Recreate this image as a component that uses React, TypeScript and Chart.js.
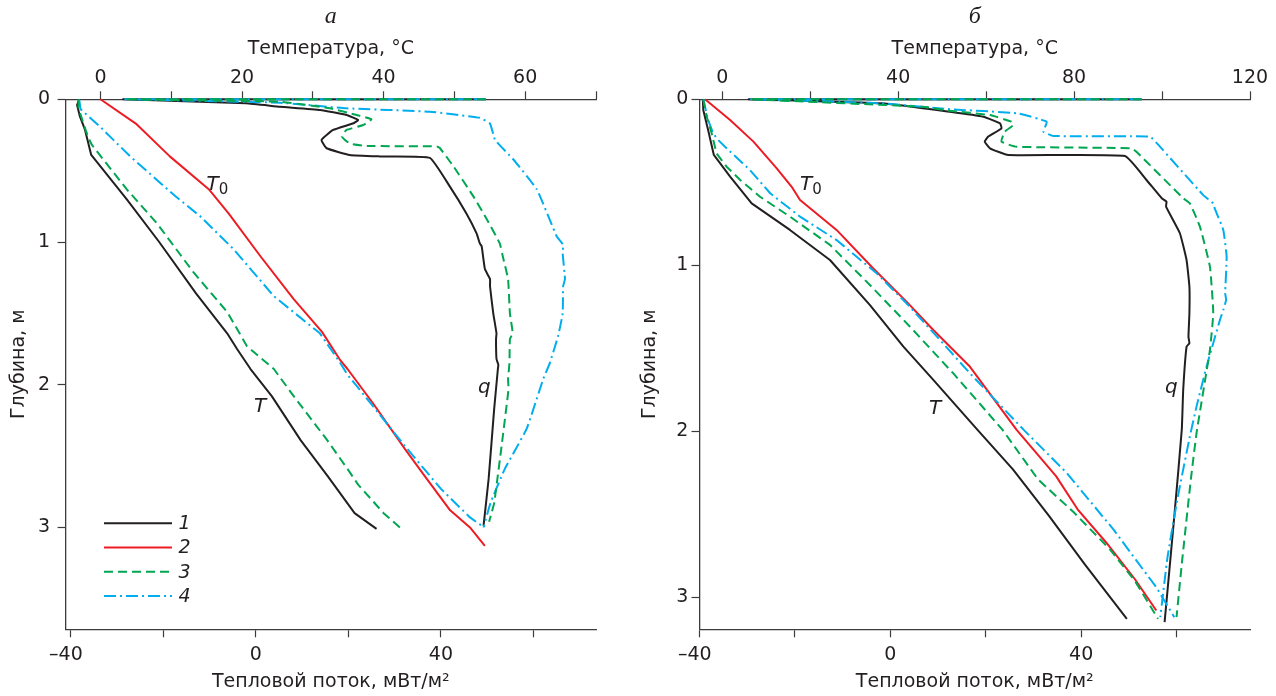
import React, { useEffect, useRef } from 'react';
import { Chart, registerables } from 'chart.js';

Chart.register(...registerables);

const SANS = '"DejaVu Sans", sans-serif';
const SERIF = '"Liberation Serif", serif';
const INK = '#231f20';
const AXIS = '#3c3c3c';

// ---------- Panel "а" (left) ----------
// Temperature curves (top axis, °C) vs depth (m)
const A_T1_TEMP = [-3.0, -3.3, -2.9, -2.2, -1.3, 3.7, 8.3, 13.5, 17.9, 19.3, 21.2, 24.2, 28.3, 32.1, 35.9, 39.0];
const A_T1_DEPTH = [0, 0.04, 0.12, 0.21, 0.39, 0.70, 1.0, 1.36, 1.64, 1.75, 1.89, 2.08, 2.39, 2.64, 2.90, 3.01];
const A_T2_TEMP = [0, 5.0, 9.8, 15.3, 18.1, 22.6, 27.3, 31.3, 33.9, 34.9, 38.5, 43.0, 46.1, 49.4, 52.2, 54.3];
const A_T2_DEPTH = [0, 0.17, 0.40, 0.63, 0.80, 1.10, 1.40, 1.63, 1.83, 1.89, 2.13, 2.45, 2.66, 2.88, 3.0, 3.13];
const A_T3_TEMP = [-3.1, -3.1, -2.4, -1.7, -1.2, -0.1, 3.7, 8.0, 13.1, 17.9, 20.7, 24.5, 27.3, 31.9, 34.9, 36.4, 40.0, 42.5];
const A_T3_DEPTH = [0, 0.06, 0.17, 0.27, 0.32, 0.39, 0.63, 0.87, 1.21, 1.49, 1.73, 1.89, 2.08, 2.38, 2.59, 2.70, 2.90, 3.01];
const A_T4_TEMP = [-3.0, -2.8, -0.1, 4.2, 10.6, 14.1, 18.8, 24.5, 31.0, 33.9, 34.9, 38.5, 43.0, 48.1, 52.2, 54.2];
const A_T4_DEPTH = [0, 0.07, 0.19, 0.40, 0.68, 0.82, 1.05, 1.38, 1.64, 1.85, 1.93, 2.15, 2.43, 2.73, 2.93, 3.0];
// Heat-flux curves (bottom axis, mW/m2) vs depth (m); the surface turning point is listed twice
const A_Q1_FLUX = [49.7, -28.7, -28.7, -2.1, 5.2, 13.9, 19.6, 22.1, 21.1, 16.7, 14.2, 15.3, 20.3, 26.8, 37.6, 41.9, 45.5, 47.7, 48.4, 48.8, 49.5, 50.6, 50.6, 51.3, 52.0, 51.9, 52.0, 52.4, 52.3, 51.5, 50.3, 49.2];
const A_Q1_DEPTH = [0, 0, 0, 0.028, 0.052, 0.075, 0.11, 0.145, 0.168, 0.215, 0.285, 0.343, 0.39, 0.40, 0.41, 0.61, 0.80, 0.94, 1.01, 1.03, 1.19, 1.26, 1.31, 1.50, 1.64, 1.68, 1.82, 1.86, 1.89, 2.17, 2.66, 2.99];
const A_Q3_FLUX = [49.7, -28.2, -28.2, 5.2, 16.0, 21.8, 25.0, 23.2, 19.6, 18.6, 20.3, 24.0, 39.1, 39.8, 42.7, 47.0, 49.9, 52.7, 53.5, 54.5, 54.9, 55.5, 54.9, 54.8, 54.5, 54.6, 53.1, 51.5, 51.0, 50.4];
const A_Q3_DEPTH = [0, 0, 0, 0.017, 0.063, 0.11, 0.14, 0.18, 0.215, 0.26, 0.31, 0.327, 0.33, 0.343, 0.47, 0.68, 0.84, 1.01, 1.12, 1.26, 1.50, 1.64, 1.68, 1.85, 1.96, 2.03, 2.43, 2.83, 2.89, 2.96];
const A_Q4_FLUX = [49.7, -28.2, -28.2, 5.2, 19.6, 37.6, 48.4, 50.6, 51.7, 55.6, 60.7, 65.0, 66.4, 66.3, 66.8, 66.4, 66.3, 65.3, 63.5, 62.1, 58.5, 53.8, 50.7, 49.2];
const A_Q4_DEPTH = [0, 0, 0, 0.024, 0.063, 0.087, 0.13, 0.17, 0.285, 0.42, 0.63, 0.96, 1.02, 1.08, 1.26, 1.31, 1.50, 1.66, 1.85, 1.96, 2.31, 2.59, 2.83, 3.0];

// ---------- Panel "б" (right) ----------
const B_T1_TEMP = [-4.4, -4.3, -3.2, -1.9, 1.8, 6.7, 15.4, 24.5, 33.6, 41.2, 48.0, 58.0, 66.1, 74.3, 82.4, 92.0];
const B_T1_DEPTH = [0, 0.064, 0.185, 0.335, 0.466, 0.627, 0.787, 0.968, 1.24, 1.49, 1.69, 1.99, 2.23, 2.51, 2.80, 3.13];
const B_T2_TEMP = [-3.9, 1.8, 7.1, 12.4, 15.8, 17.7, 26.0, 34.3, 41.9, 48.0, 56.3, 66.9, 75.9, 80.8, 87.3, 93.8, 98.7];
const B_T2_DEPTH = [0, 0.125, 0.255, 0.416, 0.527, 0.607, 0.787, 1.018, 1.219, 1.39, 1.61, 1.99, 2.27, 2.47, 2.67, 2.89, 3.08];
const B_T3_TEMP = [-4.3, -3.5, -2.4, -1.3, 1.0, 4.1, 8.6, 15.4, 24.5, 34.0, 42.7, 52.5, 63.7, 71.8, 80.0, 88.1, 93.8, 99.1];
const B_T3_DEPTH = [0, 0.105, 0.205, 0.325, 0.406, 0.486, 0.587, 0.707, 0.877, 1.13, 1.37, 1.65, 1.99, 2.29, 2.49, 2.71, 2.90, 3.13];
const B_T4_TEMP = [-4.3, -3.2, -2.2, -1.3, 1.0, 6.3, 10.9, 17.7, 26.0, 35.1, 41.9, 50.2, 56.3, 68.5, 78.3, 88.9, 98.7, 102.8];
const B_T4_DEPTH = [0, 0.125, 0.195, 0.235, 0.295, 0.426, 0.566, 0.707, 0.848, 1.048, 1.229, 1.47, 1.65, 1.99, 2.25, 2.59, 2.94, 3.12];
const B_Q1_FLUX = [52.7, -29.7, -29.7, -1.8, 12.5, 19.5, 23.0, 23.3, 20.5, 19.8, 20.9, 24.7, 49.2, 53.7, 56.9, 57.9, 57.8, 60.7, 62.1, 62.7, 62.7, 62.5, 62.7, 62.1, 61.4, 61.1, 59.6, 57.5];
const B_Q1_DEPTH = [0, 0, 0, 0.024, 0.075, 0.105, 0.145, 0.175, 0.225, 0.255, 0.295, 0.336, 0.342, 0.486, 0.596, 0.617, 0.647, 0.807, 0.968, 1.129, 1.289, 1.43, 1.47, 1.49, 1.75, 1.99, 2.49, 3.15];
const B_Q3_FLUX = [52.7, -29.2, -29.2, 6.8, 12.5, 20.9, 25.4, 25.8, 24.0, 23.3, 26.5, 50.6, 51.6, 61.4, 62.8, 64.9, 67.0, 67.7, 67.0, 66.0, 64.2, 63.0, 61.1, 60.0];
const B_Q3_DEPTH = [0, 0, 0, 0.045, 0.069, 0.095, 0.135, 0.155, 0.195, 0.255, 0.286, 0.295, 0.316, 0.596, 0.627, 0.767, 1.008, 1.289, 1.51, 1.69, 2.01, 2.29, 2.80, 3.12];
const B_Q4_FLUX = [52.7, -29.2, -29.2, -1.8, 12.5, 26.5, 32.8, 32.1, 34.2, 54.4, 56.2, 65.6, 67.7, 68.0, 69.8, 70.5, 70.2, 70.4, 69.8, 69.1, 66.3, 64.2, 62.8, 60.3, 58.1, 56.6];
const B_Q4_DEPTH = [0, 0, 0, 0.024, 0.06, 0.084, 0.135, 0.195, 0.221, 0.225, 0.275, 0.577, 0.627, 0.657, 0.787, 0.948, 1.169, 1.209, 1.269, 1.329, 1.61, 1.85, 2.03, 2.39, 2.76, 3.12];

// ---------- Axes ----------
const T_TITLE = 'Температура, °C';
const Q_TITLE = 'Тепловой поток, мВт/м²';
const D_TITLE = 'Глубина, м';
const A_T_TICKS = [0, 10, 20, 30, 40, 50, 60, 70];
const A_T_LABELS = [0, 20, 40, 60];
const B_T_TICKS = [0, 20, 40, 60, 80, 100, 120];
const B_T_LABELS = [0, 40, 80, 120];
const Q_TICKS = [-40, -20, 0, 20, 40, 60];
const Q_LABELS = [-40, 0, 40];
const D_TICKS = [0, 1, 2, 3];
const LEGEND_LABELS = ['1', '2', '3', '4'];

const SERIES_STYLE: Record<number, { color: string; dash: number[]; order: number }> = {
  1: { color: '#231f20', dash: [], order: 3 },
  2: { color: '#ed1c24', dash: [], order: 2 },
  3: { color: '#00a651', dash: [9, 5], order: 0 },
  4: { color: '#00aeef', dash: [12, 4, 2, 4], order: 1 },
};

type Curve = { xs: number[]; ds: number[]; axis: 'xT' | 'xQ'; series: number };
type Note = { text: string; sub?: string; axis: 'xT' | 'xQ'; x: number; y: number };
type Panel = {
  key: string; letter: string; left: number; width: number;
  yAxisWidth: number; padRight: number;
  tMin: number; tMax: number; tTicks: number[]; tLabels: number[];
  qMin: number; qMax: number;
  dMax: number; yTickPad: number; yTitlePad: number;
  curves: Curve[]; notes: Note[]; legend: boolean;
};

const PANEL_A: Panel = {
  key: 'a', letter: 'а', left: 0, width: 638, yAxisWidth: 65.6, padRight: 42,
  tMin: -4.92, tMax: 70, tTicks: A_T_TICKS, tLabels: A_T_LABELS,
  qMin: -41.1, qMax: 73.5, dMax: 3.714, yTickPad: 7.6, yTitlePad: 8,
  curves: [
    { xs: A_Q1_FLUX, ds: A_Q1_DEPTH, axis: 'xQ', series: 1 },
    { xs: A_Q3_FLUX, ds: A_Q3_DEPTH, axis: 'xQ', series: 3 },
    { xs: A_Q4_FLUX, ds: A_Q4_DEPTH, axis: 'xQ', series: 4 },
    { xs: A_T1_TEMP, ds: A_T1_DEPTH, axis: 'xT', series: 1 },
    { xs: A_T2_TEMP, ds: A_T2_DEPTH, axis: 'xT', series: 2 },
    { xs: A_T3_TEMP, ds: A_T3_DEPTH, axis: 'xT', series: 3 },
    { xs: A_T4_TEMP, ds: A_T4_DEPTH, axis: 'xT', series: 4 },
  ],
  notes: [
    { text: 'T', sub: '0', axis: 'xT', x: 15.0, y: 0.634 },
    { text: 'T', axis: 'xT', x: 21.7, y: 2.19 },
    { text: 'q', axis: 'xQ', x: 48.0, y: 2.06 },
  ],
  legend: true,
};

const PANEL_B: Panel = {
  key: 'b', letter: 'б', left: 638, width: 638, yAxisWidth: 61.5, padRight: 26,
  tMin: -5.16, tMax: 120, tTicks: B_T_TICKS, tLabels: B_T_LABELS,
  qMin: -40, qMax: 75.4, dMax: 3.193, yTickPad: 3.2, yTitlePad: 1,
  curves: [
    { xs: B_Q1_FLUX, ds: B_Q1_DEPTH, axis: 'xQ', series: 1 },
    { xs: B_Q3_FLUX, ds: B_Q3_DEPTH, axis: 'xQ', series: 3 },
    { xs: B_Q4_FLUX, ds: B_Q4_DEPTH, axis: 'xQ', series: 4 },
    { xs: B_T1_TEMP, ds: B_T1_DEPTH, axis: 'xT', series: 1 },
    { xs: B_T2_TEMP, ds: B_T2_DEPTH, axis: 'xT', series: 2 },
    { xs: B_T3_TEMP, ds: B_T3_DEPTH, axis: 'xT', series: 3 },
    { xs: B_T4_TEMP, ds: B_T4_DEPTH, axis: 'xT', series: 4 },
  ],
  notes: [
    { text: 'T', sub: '0', axis: 'xT', x: 17.7, y: 0.546 },
    { text: 'T', axis: 'xT', x: 47.0, y: 1.896 },
    { text: 'q', axis: 'xQ', x: 57.6, y: 1.77 },
  ],
  legend: false,
};

const H = 696;
const PLOT_TOP = 99.3;
const PLOT_BOTTOM = 629.3;
const TITLE_BOX = 30.8;
const TICK_FONT = { family: SANS, size: 19 };

function fmt(v: number): string {
  return v < 0 ? '\u2013' + Math.abs(v) + '\u2002' : String(v);
}

function overlayPlugin(panel: Panel) {
  return {
    id: 'overlay_' + panel.key,
    afterDraw(chart: any) {
      const ctx: CanvasRenderingContext2D = chart.ctx;
      const ys = chart.scales.y;
      ctx.save();
      ctx.fillStyle = INK;
      ctx.textAlign = 'left';
      ctx.textBaseline = 'alphabetic';
      for (const n of panel.notes) {
        const px = chart.scales[n.axis].getPixelForValue(n.x);
        const py = ys.getPixelForValue(n.y);
        ctx.font = `italic 20px ${SANS}`;
        ctx.fillText(n.text, px, py);
        if (n.sub) {
          const w = ctx.measureText(n.text).width;
          ctx.font = `15px ${SANS}`;
          ctx.fillText(n.sub, px + w, py + 4);
        }
      }
      if (panel.legend) {
        const ca = chart.chartArea;
        LEGEND_LABELS.forEach((lab, i) => {
          const st = SERIES_STYLE[i + 1];
          const y = ca.top + 424 + i * 24.2;
          ctx.beginPath();
          ctx.strokeStyle = st.color;
          ctx.lineWidth = 2;
          ctx.setLineDash(st.dash);
          ctx.moveTo(ca.left + 38.4, y);
          ctx.lineTo(ca.left + 106.4, y);
          ctx.stroke();
          ctx.setLineDash([]);
          ctx.font = `italic 19px ${SANS}`;
          ctx.textBaseline = 'middle';
          ctx.fillText(lab, ca.left + 113, y + 1);
        });
      }
      ctx.restore();
    },
  };
}

function buildConfig(panel: Panel): any {
  const datasets = panel.curves.map((c) => {
    const st = SERIES_STYLE[c.series];
    return {
      label: String(c.series),
      data: c.xs.map((x, i) => ({ x, y: c.ds[i] })),
      xAxisID: c.axis,
      yAxisID: 'y',
      borderColor: st.color,
      backgroundColor: st.color,
      borderDash: st.dash,
      borderWidth: 2,
      borderJoinStyle: 'round',
      pointRadius: 0,
      pointHoverRadius: 0,
      fill: false,
      tension: c.axis === 'xQ' ? 0.12 : 0,
      clip: false,
      order: st.order,
    };
  });
  const grid = {
    display: true, drawOnChartArea: false, drawTicks: true,
    tickLength: 8, tickWidth: 1.2, tickColor: AXIS,
  };
  const border = { display: true, color: AXIS, width: 1.3 };
  return {
    type: 'line',
    data: { datasets },
    options: {
      animation: false,
      responsive: false,
      maintainAspectRatio: false,
      events: [],
      layout: { padding: { left: 0, right: panel.padRight, top: 0, bottom: 0 } },
      plugins: {
        legend: { display: false },
        tooltip: { enabled: false },
        title: {
          display: true, text: panel.letter, fullSize: false, color: INK,
          font: { family: SERIF, size: 24, style: 'italic', weight: 'normal' },
          padding: { top: 2, bottom: 0 },
        },
      },
      scales: {
        xT: {
          type: 'linear', axis: 'x', position: 'top', min: panel.tMin, max: panel.tMax,
          afterBuildTicks: (s: any) => { s.ticks = panel.tTicks.map((v) => ({ value: v })); },
          afterFit: (s: any) => { s.height = PLOT_TOP - TITLE_BOX; },
          ticks: {
            autoSkip: false, maxRotation: 0, minRotation: 0, padding: 2, color: INK, font: TICK_FONT,
            callback: (v: number) => (panel.tLabels.includes(v) ? fmt(v) : ''),
          },
          grid, border,
          title: { display: true, text: T_TITLE, color: INK, font: TICK_FONT, padding: { top: 6.5, bottom: 0 } },
        },
        xQ: {
          type: 'linear', axis: 'x', position: 'bottom', min: panel.qMin, max: panel.qMax,
          afterBuildTicks: (s: any) => { s.ticks = Q_TICKS.map((v) => ({ value: v })); },
          afterFit: (s: any) => { s.height = H - PLOT_BOTTOM; },
          ticks: {
            autoSkip: false, maxRotation: 0, minRotation: 0, padding: 6.5, color: INK, font: TICK_FONT,
            callback: (v: number) => (Q_LABELS.includes(v) ? fmt(v) : ''),
          },
          grid, border,
          title: { display: true, text: Q_TITLE, color: INK, font: TICK_FONT, padding: { top: 0, bottom: 3 } },
        },
        y: {
          type: 'linear', axis: 'y', position: 'left', reverse: true, min: 0, max: panel.dMax,
          afterBuildTicks: (s: any) => { s.ticks = D_TICKS.map((v) => ({ value: v })); },
          afterFit: (s: any) => { s.width = panel.yAxisWidth; },
          ticks: {
            autoSkip: false, padding: panel.yTickPad, color: INK, font: TICK_FONT,
            callback: (v: number) => String(v),
          },
          grid, border,
          title: { display: true, text: D_TITLE, color: INK, font: TICK_FONT, padding: { top: panel.yTitlePad, bottom: 0 } },
        },
      },
    },
    plugins: [overlayPlugin(panel)],
  };
}

function PanelChart({ panel }: { panel: Panel }) {
  const ref = useRef<HTMLCanvasElement>(null);
  useEffect(() => {
    const chart = new Chart(ref.current as HTMLCanvasElement, buildConfig(panel));
    return () => chart.destroy();
  }, [panel]);
  return (
    <canvas
      ref={ref}
      width={panel.width}
      height={H}
      style={{ position: 'absolute', left: panel.left, top: 0, width: panel.width, height: H, display: 'block' }}
    />
  );
}

export default function App() {
  return (
    <div style={{ position: 'fixed', left: 0, top: 0, width: 1276, height: H, background: '#ffffff', overflow: 'hidden' }}>
      <PanelChart panel={PANEL_A} />
      <PanelChart panel={PANEL_B} />
    </div>
  );
}
